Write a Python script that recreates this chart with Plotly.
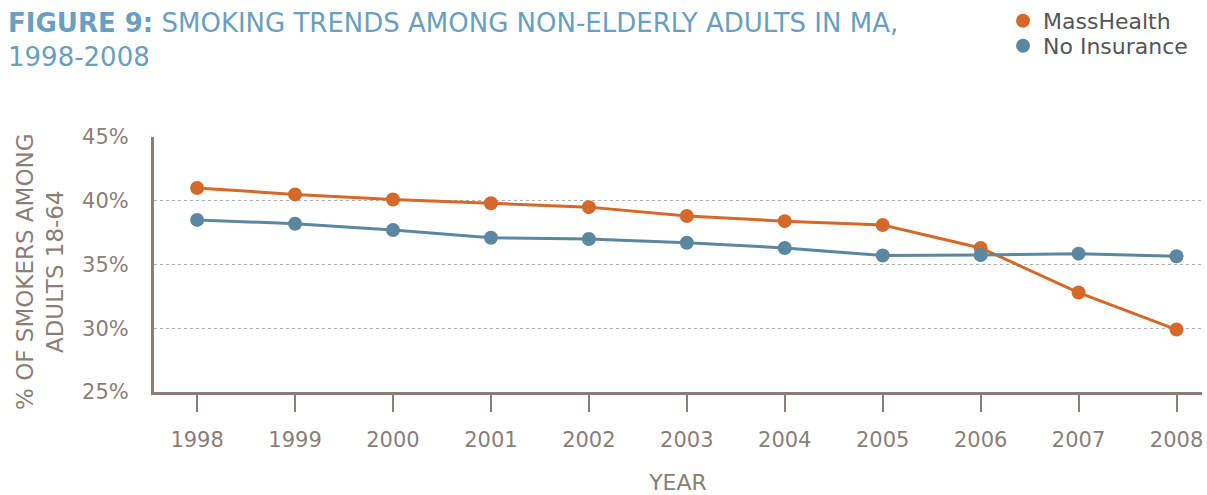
import plotly.graph_objects as go

years = ["1998", "1999", "2000", "2001", "2002", "2003", "2004", "2005", "2006", "2007", "2008"]
masshealth = [41.0, 40.5, 40.1, 39.8, 39.5, 38.8, 38.4, 38.1, 36.3, 32.8, 29.9]
no_insurance = [38.5, 38.2, 37.7, 37.1, 37.0, 36.7, 36.3, 35.7, 35.75, 35.85, 35.65]
y_ticks = [25, 30, 35, 40, 45]
y_ticklabels = ["25%", "30%", "35%", "40%", "45%"]

ORANGE = "#d4692a"
BLUE = "#5b87a0"
GRAY = "#8a7f78"
TITLE_BLUE = "#6a9fbf"
FONT = "DejaVu Sans, sans-serif"

# plot area in pixels
L, R, T, B = 154, 5, 137, 103
W, H = 1207, 495
PW, PH = W - L - R, H - T - B

def px_x(px):
    return (px - L) / PW

def px_y(py):
    return (H - B - py) / PH

fig = go.Figure()
fig.add_trace(go.Scatter(x=years, y=masshealth, name="MassHealth", mode="lines+markers",
                         line=dict(color=ORANGE, width=3), marker=dict(color=ORANGE, size=14),
                         showlegend=False))
fig.add_trace(go.Scatter(x=years, y=no_insurance, name="No Insurance", mode="lines+markers",
                         line=dict(color=BLUE, width=3), marker=dict(color=BLUE, size=14),
                         showlegend=False))
# legend entries (marker only, as in the reference)
fig.add_trace(go.Scatter(x=[None], y=[None], name="MassHealth", mode="markers",
                         marker=dict(color=ORANGE, size=14), legend="legend"))
fig.add_trace(go.Scatter(x=[None], y=[None], name="No Insurance", mode="markers",
                         marker=dict(color=BLUE, size=14), legend="legend2"))

legend_common = dict(xanchor="left", yanchor="middle", yref="container", xref="paper",
                     font=dict(size=22, color="#555555"), bgcolor="rgba(0,0,0,0)",
                     itemwidth=30, borderwidth=0)

fig.update_layout(
    width=W, height=H,
    margin=dict(l=L, r=R, t=T, b=B, autoexpand=False),
    paper_bgcolor="white", plot_bgcolor="white",
    font=dict(family=FONT, color=GRAY, size=20),
    showlegend=True,
    legend=dict(x=px_x(1003), y=1 - 21 / H, **legend_common),
    legend2=dict(x=px_x(1003), y=1 - 46 / H, **legend_common),
    annotations=[
        dict(text="<b>FIGURE 9:</b> SMOKING TRENDS AMONG NON-ELDERLY ADULTS IN MA,<br>1998-2008",
             xref="paper", yref="paper", x=px_x(6), y=px_y(6), xanchor="left", yanchor="top",
             align="left", showarrow=False,
             font=dict(family=FONT, size=26, color=TITLE_BLUE)),
        dict(text="% OF SMOKERS AMONG<br>ADULTS 18-64",
             xref="paper", yref="paper", x=px_x(40), y=px_y(272), xanchor="center", yanchor="middle",
             align="center", showarrow=False, textangle=-90,
             font=dict(family=FONT, size=23, color=GRAY)),
    ],
)
fig.update_xaxes(
    type="category", range=[-0.44, 10.26],
    showline=True, linecolor=GRAY, linewidth=3,
    ticks="outside", ticklen=17, tickwidth=2, tickcolor=GRAY,
    ticklabelstandoff=10,
    showgrid=False, tickfont=dict(size=21, color=GRAY),
    title=dict(text="YEAR", font=dict(size=22, color=GRAY), standoff=26),
)
fig.update_yaxes(
    range=[25, 45], tickvals=y_ticks, ticktext=y_ticklabels,
    showline=True, linecolor=GRAY, linewidth=3,
    showgrid=True, gridcolor="#b5aca5", griddash="dot", gridwidth=1,
    ticks="", ticklabelstandoff=18, zeroline=False,
    tickfont=dict(size=21, color=GRAY),
)

fig.write_html("out.html")
